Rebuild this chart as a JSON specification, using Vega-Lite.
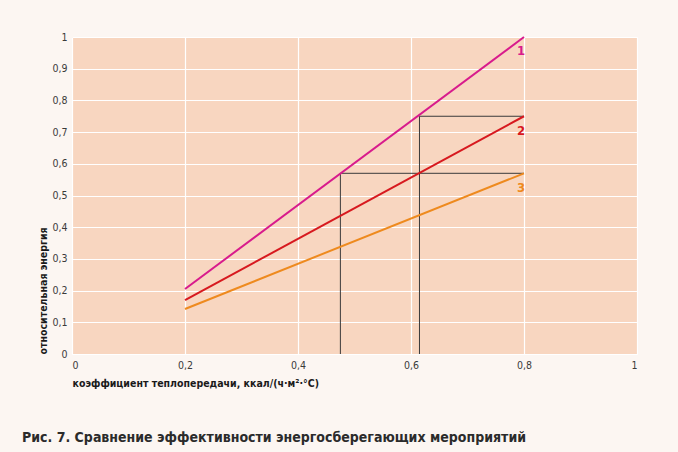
{
  "$schema": "https://vega.github.io/schema/vega-lite/v6.json",
  "width": 565,
  "height": 317,
  "autosize": {"type": "none"},
  "padding": {"left": 72, "top": 37, "right": 41, "bottom": 98},
  "background": "#fcf6f2",
  "title": {
    "text": "Рис. 7. Сравнение эффективности энергосберегающих мероприятий",
    "orient": "bottom",
    "anchor": "start",
    "frame": "group",
    "dx": -50,
    "offset": 42,
    "font": "DejaVu Sans Condensed, sans-serif",
    "fontSize": 14,
    "fontWeight": "bold",
    "color": "#2b2b2b"
  },
  "config": {
    "view": {"fill": "#f8d6c0", "stroke": null},
    "font": "DejaVu Sans Condensed, sans-serif",
    "axis": {
      "domain": false,
      "ticks": false,
      "gridColor": "#ffffff",
      "gridWidth": 1.2,
      "gridOpacity": 1,
      "labelColor": "#3a3a3a",
      "labelFontSize": 10.5,
      "titleColor": "#1a1a1a",
      "titleFontSize": 10.5,
      "titleFontWeight": "bold"
    }
  },
  "datasets": {
    "curves": [
      {"k": 0.2, "e": 0.205, "series": "1"},
      {"k": 0.8, "e": 1.0, "series": "1"},
      {"k": 0.2, "e": 0.17, "series": "2"},
      {"k": 0.8, "e": 0.75, "series": "2"},
      {"k": 0.2, "e": 0.142, "series": "3"},
      {"k": 0.8, "e": 0.57, "series": "3"}
    ],
    "guides": [
      {"k": 0.475, "e": 0, "k2": 0.475, "e2": 0.57},
      {"k": 0.475, "e": 0.57, "k2": 0.8, "e2": 0.57},
      {"k": 0.615, "e": 0, "k2": 0.615, "e2": 0.75},
      {"k": 0.615, "e": 0.75, "k2": 0.8, "e2": 0.75}
    ],
    "labels": [
      {"k": 0.795, "e": 0.955, "series": "1"},
      {"k": 0.795, "e": 0.705, "series": "2"},
      {"k": 0.795, "e": 0.525, "series": "3"}
    ]
  },
  "encoding": {
    "x": {
      "field": "k", "type": "quantitative",
      "scale": {"domain": [0, 1]},
      "axis": {
        "values": [0, 0.2, 0.4, 0.6, 0.8, 1],
        "labelExpr": "replace(format(datum.value, '~g'), '.', ',')",
        "labelPadding": 6,
        "title": "коэффициент теплопередачи, ккал/(ч·м²·°С)",
        "titleAnchor": "start",
        "titleAlign": "left",
        "titlePadding": 8
      }
    },
    "y": {
      "field": "e", "type": "quantitative",
      "scale": {"domain": [0, 1]},
      "axis": {
        "values": [0, 0.1, 0.2, 0.3, 0.4, 0.5, 0.6, 0.7, 0.8, 0.9, 1],
        "labelExpr": "replace(format(datum.value, '~g'), '.', ',')",
        "labelPadding": 5,
        "title": "относительная энергия",
        "titleAnchor": "start",
        "titlePadding": 3
      }
    }
  },
  "layer": [
    {
      "data": {"name": "guides"},
      "mark": {"type": "rule", "color": "#3a3a3a", "strokeWidth": 1},
      "encoding": {
        "x2": {"field": "k2"},
        "y2": {"field": "e2"}
      }
    },
    {
      "data": {"name": "curves"},
      "mark": {"type": "line", "strokeWidth": 2},
      "encoding": {
        "color": {
          "field": "series", "type": "nominal",
          "scale": {"domain": ["1", "2", "3"], "range": ["#d81b8c", "#d7191f", "#ee8a1e"]},
          "legend": null
        }
      }
    },
    {
      "data": {"name": "labels"},
      "mark": {"type": "text", "fontWeight": "bold", "fontSize": 13, "align": "center", "baseline": "middle"},
      "encoding": {
        "text": {"field": "series"},
        "color": {
          "field": "series", "type": "nominal",
          "scale": {"domain": ["1", "2", "3"], "range": ["#d81b8c", "#d7191f", "#ee8a1e"]},
          "legend": null
        }
      }
    }
  ]
}
